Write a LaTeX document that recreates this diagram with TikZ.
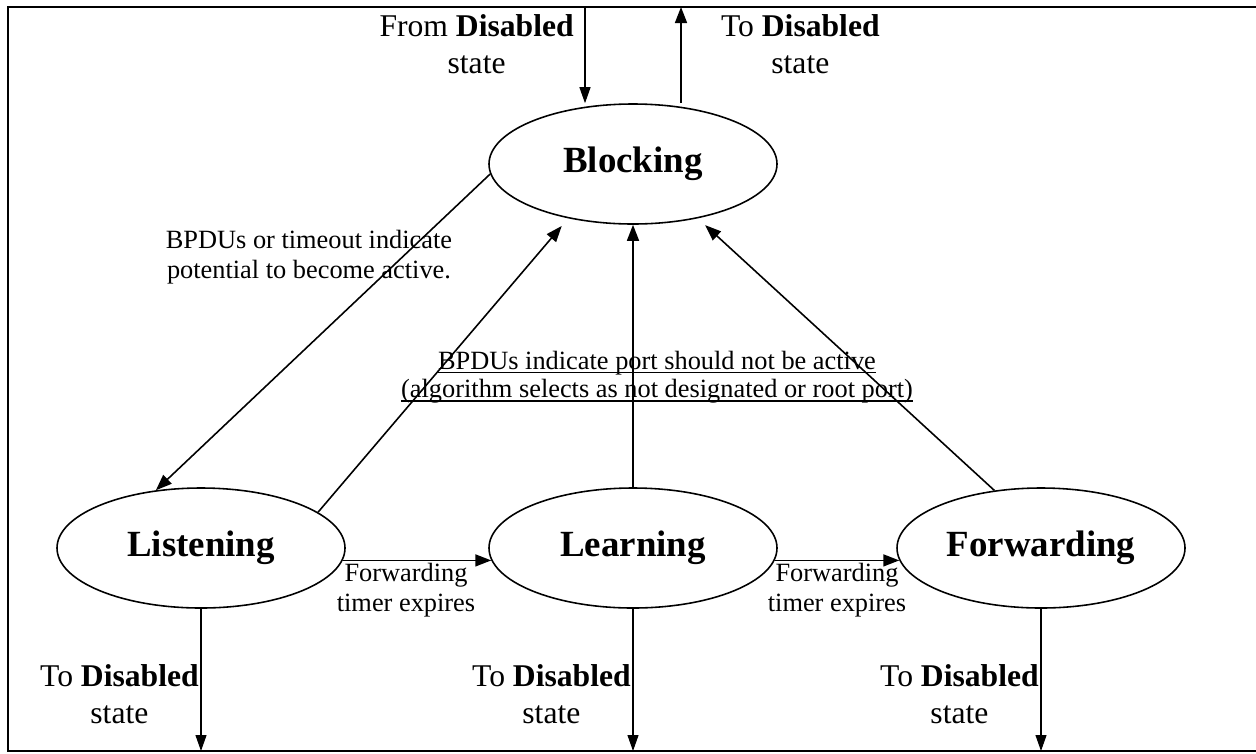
\documentclass[tikz,border=0pt]{standalone}
\usepackage{fontspec}
\setmainfont{Liberation Serif}
\usepackage{tikz}
\usetikzlibrary{positioning}
\usetikzlibrary{shapes.geometric,arrows.meta}
\newcommand{\ulline}[1]{\setbox0\hbox{#1}\rlap{\rule[-2.4pt]{\wd0}{1.1pt}}\box0}
\tikzstyle{st} = [ellipse, text centered, line width=0.9pt, draw=black, minimum width=5.76cm, minimum height=2.4cm, inner sep=0pt, font=\fontsize{21}{24}\selectfont\bfseries]
\tikzstyle{dis} = [align=center, inner sep=1pt, font=\fontsize{18}{21}\selectfont]
\tikzstyle{cond} = [align=center, inner sep=1pt, font=\fontsize{15}{17}\selectfont]
\tikzstyle{arr} = [line width=0.9pt, -{Triangle[length=0.32cm,width=0.24cm]}]
\tikzstyle{tarr} = [semithick, -{Triangle[length=0.32cm,width=0.22cm]}]

\begin{document}
\begin{tikzpicture}
    \useasboundingbox (0,0) rectangle (25.12,-15.06);
    % frame (right side falls outside the picture)
    \draw[line width=1.2pt] (25.12,-0.14) -- (0.16,-0.14) -- (0.16,-15.02) -- (25.12,-15.02);

    \node (Blocking) [st] at (12.66,-3.28) {Blocking};
    \node (Listening) [st] at (4.02,-10.96) {Listening};
    \node (Learning) [st] at (12.66,-10.96) {Learning};
    \node (Forwarding) [st] at (20.82,-10.96) {Forwarding};

    \coordinate (topin) at (11.7,-0.14);
    \coordinate (topout) at (13.62,-0.14);
    \coordinate (outL) at (4.02,-15.02);
    \coordinate (outM) at (12.66,-15.02);
    \coordinate (outR) at (20.82,-15.02);

    \draw[tarr] (topin) -- node (fromdis) [dis, pos=0.39, left=0.18cm] {From \textbf{Disabled}\\state} (topin |- Blocking.north);
    \draw[arr] (topout |- Blocking.north) -- node (todis) [dis, pos=0.61, right=0.75cm] {To \textbf{Disabled}\\state} (topout);

    \draw[arr] (Blocking.184) -- (Listening.128);
    \draw[arr, shorten >=0.2cm] (Listening.17) -- (Blocking.220);
    \draw[arr] (Learning.north) -- (Blocking.south);
    \draw[arr, shorten >=0.2cm] (Forwarding.129) -- (Blocking.320);

    \draw[arr] (Listening.-5) -- node (fwdA) [cond, below, xshift=-0.22cm] {Forwarding\\timer expires} (Learning.185);
    \draw[arr] (Learning.-5) -- node (fwdB) [cond, below] {Forwarding\\timer expires} (Forwarding.185);

    \draw[tarr] (Listening.south) -- node (disL) [dis, pos=0.6, left=0pt] {To \textbf{Disabled}\\state} (outL);
    \draw[tarr] (Learning.south) -- node (disM) [dis, pos=0.6, left=0pt] {To \textbf{Disabled}\\state} (outM);
    \draw[tarr] (Forwarding.south) -- node (disR) [dis, pos=0.6, left=0pt] {To \textbf{Disabled}\\state} (outR);

    \node (active) [cond] at (6.18,-5.14) {BPDUs or timeout indicate\\potential to become active.};
    \node (notactive) [cond, font=\fontsize{15}{16}\selectfont] at (13.14,-7.54) {\ulline{BPDUs indicate port should not be active}\\\ulline{(algorithm selects as not designated or root port)}};
\end{tikzpicture}
\end{document}
